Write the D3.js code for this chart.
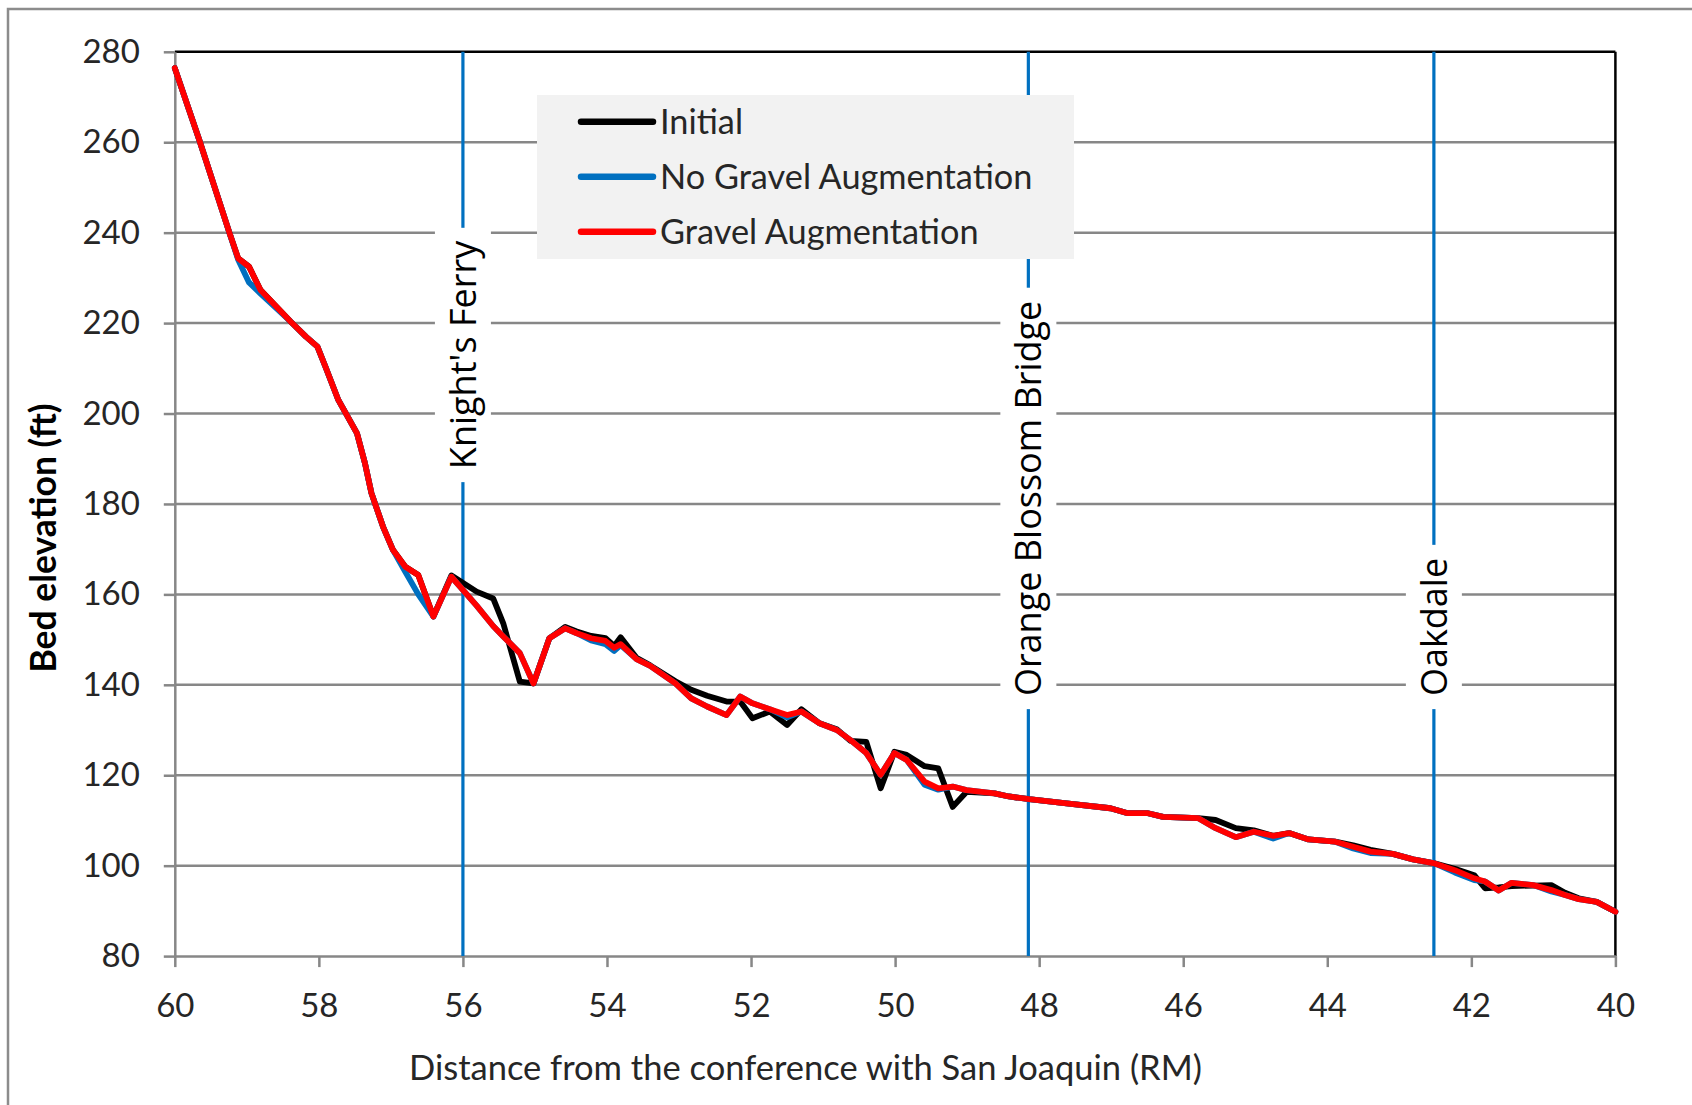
<!DOCTYPE html>
<html>
<head>
<meta charset="utf-8">
<script src="https://cdn.jsdelivr.net/npm/d3@7"></script>
<style>
  html, body { margin: 0; padding: 0; background: #ffffff; }
  svg { display: block; }
</style>
</head>
<body>
<script>
// ---------------- DATA ----------------
const rm = [60.0, 59.66, 59.24, 59.12, 58.97, 58.81, 58.39, 58.18, 58.02, 57.91,
  57.73, 57.47, 57.36, 57.27, 57.11, 56.97, 56.80, 56.62, 56.41, 56.16,
  55.81, 55.58, 55.44, 55.21, 55.02, 54.80, 54.58, 54.42, 54.22, 54.02,
  53.90, 53.81, 53.59, 53.40, 53.05, 52.83, 52.61, 52.34, 52.15, 51.98,
  51.74, 51.50, 51.30, 51.05, 50.81, 50.62, 50.40, 50.20, 50.01, 49.84,
  49.59, 49.40, 49.20, 49.01, 48.62, 48.42, 48.14, 47.62, 47.01, 46.77,
  46.49, 46.28, 45.79, 45.55, 45.27, 45.02, 44.75, 44.53, 44.26, 43.89,
  43.64, 43.40, 43.09, 42.81, 42.51, 42.23, 41.96, 41.81, 41.62, 41.44,
  41.14, 40.89, 40.70, 40.51, 40.26, 40.00];

const initial = [276.4, 260.5, 239.9, 234.3, 232.5, 227.3, 220.3, 217.0, 214.8, 210.4,
  203.0, 195.6, 189.0, 182.4, 175.0, 169.8, 166.1, 164.3, 155.1, 164.2,
  160.6, 159.1, 153.6, 140.7, 140.3, 150.3, 152.8, 151.8, 150.8, 150.3,
  148.6, 150.5, 146.0, 144.3, 140.8, 138.9, 137.6, 136.3, 136.3, 132.6,
  134.1, 131.1, 134.6, 131.5, 130.2, 127.6, 127.4, 117.1, 125.2, 124.5,
  122.0, 121.5, 113.0, 116.3, 116.0, 115.3, 114.7, 113.8, 112.7, 111.6,
  111.6, 110.8, 110.5, 110.1, 108.3, 107.8, 106.6, 107.2, 105.8, 105.3,
  104.5, 103.5, 102.6, 101.4, 100.5, 99.3, 97.9, 95.0, 95.2, 95.5,
  95.6, 95.7, 94.0, 92.8, 92.0, 89.8];

const noGravel = [276.4, 260.5, 239.9, 234.0, 229.0, 226.5, 220.3, 217.0, 214.8, 210.4,
  203.0, 195.6, 189.0, 182.4, 175.0, 169.8, 165.0, 160.0, 155.1, 163.9,
  157.5, 153.0, 150.7, 147.0, 140.3, 150.3, 152.5, 151.4, 149.8, 149.0,
  147.5, 148.8, 145.7, 144.2, 140.3, 137.0, 135.2, 133.3, 137.4, 135.9,
  134.6, 132.8, 134.1, 131.5, 130.0, 127.8, 124.9, 120.1, 124.9, 123.4,
  117.9, 116.8, 117.5, 116.7, 116.0, 115.3, 114.7, 113.8, 112.7, 111.6,
  111.6, 110.8, 110.5, 108.3, 106.3, 107.5, 106.0, 107.2, 105.8, 105.3,
  103.8, 102.8, 102.6, 101.4, 100.5, 98.5, 96.8, 96.5, 94.5, 96.2,
  95.7, 94.3, 93.5, 92.6, 92.0, 89.8];

const gravel = [276.4, 260.5, 239.9, 234.3, 232.5, 227.3, 220.3, 217.0, 214.8, 210.4,
  203.0, 195.6, 189.0, 182.4, 175.0, 169.8, 166.1, 164.3, 155.1, 163.9,
  157.5, 153.0, 150.7, 147.0, 140.3, 150.3, 152.5, 151.4, 150.3, 149.7,
  148.2, 149.0, 145.7, 144.2, 140.3, 137.0, 135.2, 133.3, 137.4, 135.9,
  134.6, 133.3, 134.1, 131.5, 130.0, 127.8, 124.9, 120.1, 124.9, 123.4,
  118.6, 117.1, 117.5, 116.7, 116.0, 115.3, 114.7, 113.8, 112.7, 111.6,
  111.6, 110.8, 110.5, 108.3, 106.3, 107.5, 106.6, 107.2, 105.8, 105.3,
  104.2, 103.1, 102.6, 101.4, 100.5, 99.0, 97.2, 96.5, 94.5, 96.2,
  95.7, 94.6, 93.5, 92.6, 92.0, 89.8];

const seriesNames = ["Initial", "No Gravel Augmentation", "Gravel Augmentation"];
const seriesColors = ["#000000", "#0070C0", "#FF0000"];

const xTicks = [60, 58, 56, 54, 52, 50, 48, 46, 44, 42, 40];
const yTicks = [80, 100, 120, 140, 160, 180, 200, 220, 240, 260, 280];

const markerNames = ["Knight's Ferry", "Orange Blossom Bridge", "Oakdale"];
const markerRM = [56.0, 48.15, 42.52];
const markerLabelStartElev = [187.7, 137.5, 137.5];

const xTitle = "Distance from the conference with San Joaquin (RM)";
const yTitle = "Bed elevation (ft)";

// ---------------- LAYOUT ----------------
const W = 1692, H = 1105;
const M = { left: 174.8, right: 1615.4, top: 51.8, bottom: 956.1 };

const svg = d3.select("body").append("svg").attr("width", W).attr("height", H);

// outer frame
svg.append("rect").attr("x", 8).attr("y", 9).attr("width", W + 20).attr("height", H + 20)
  .attr("fill", "#ffffff").attr("stroke", "#8c8c8c").attr("stroke-width", 2.5);

const x = d3.scaleLinear().domain([60, 40]).range([M.left, M.right]);
const y = d3.scaleLinear().domain([80, 280]).range([M.bottom, M.top]);

const gridColor = "#878787";
const txtFont = "Lato, 'Open Sans', sans-serif";
const txtColor = "#262626";

// gridlines
svg.append("g").selectAll("line").data(yTicks.filter(d => d > 80 && d < 280)).join("line")
  .attr("x1", M.left).attr("x2", M.right)
  .attr("y1", d => y(d)).attr("y2", d => y(d))
  .attr("stroke", gridColor).attr("stroke-width", 2.5);

// top and right border (black)
svg.append("line").attr("x1", M.left).attr("x2", M.right).attr("y1", y(280)).attr("y2", y(280))
  .attr("stroke", "#000").attr("stroke-width", 2.5);
svg.append("line").attr("x1", M.right).attr("x2", M.right).attr("y1", y(280)).attr("y2", y(80))
  .attr("stroke", "#000").attr("stroke-width", 2.5);

// axes
const yAxis = svg.append("g").attr("transform", `translate(${M.left},0)`)
  .call(d3.axisLeft(y).tickValues(yTicks).tickSize(11).tickPadding(24).tickSizeOuter(0));
const xAxis = svg.append("g").attr("transform", `translate(0,${M.bottom})`)
  .call(d3.axisBottom(x).tickValues(xTicks).tickSize(11).tickPadding(26).tickSizeOuter(0));
[xAxis, yAxis].forEach(g => {
  g.selectAll("path, line").attr("stroke", gridColor).attr("stroke-width", 2.5);
  g.selectAll("text").attr("font-family", txtFont).attr("font-size", 33).attr("fill", txtColor);
});

// marker lines
svg.append("g").selectAll("line").data(markerRM).join("line")
  .attr("x1", d => x(d)).attr("x2", d => x(d))
  .attr("y1", y(280)).attr("y2", y(80))
  .attr("stroke", "#0070C0").attr("stroke-width", 3.2);

// marker labels with white boxes
const labG = svg.append("g");
markerNames.forEach((name, i) => {
  const cx = x(markerRM[i]);
  const sy = y(markerLabelStartElev[i]);
  const g = labG.append("g");
  const t = g.append("text")
    .attr("transform", `translate(${cx},${sy}) rotate(-90)`)
    .attr("dy", "0.36em")
    .attr("font-family", "'Open Sans', sans-serif")
    .attr("font-size", 36)
    .attr("fill", "#000")
    .text(name);
  const len = t.node().getComputedTextLength();
  g.insert("rect", "text")
    .attr("x", cx - 28).attr("width", 56)
    .attr("y", sy - len - 13).attr("height", len + 26)
    .attr("fill", "#ffffff");
});

// series
const line = d3.line().x((d, i) => x(rm[i])).y(d => y(d));
const seriesData = [initial, noGravel, gravel];
svg.append("g").selectAll("path").data(seriesData).join("path")
  .attr("d", d => line(d))
  .attr("fill", "none")
  .attr("stroke", (d, i) => seriesColors[i])
  .attr("stroke-width", 5.8)
  .attr("stroke-linejoin", "round")
  .attr("stroke-linecap", "round");

// legend
const lg = svg.append("g");
lg.append("rect").attr("x", 537).attr("y", 95).attr("width", 537).attr("height", 164)
  .attr("fill", "#f2f2f2");
seriesNames.forEach((name, i) => {
  const ly = 121.7 + i * 55;
  lg.append("line").attr("x1", 581).attr("x2", 653).attr("y1", ly).attr("y2", ly)
    .attr("stroke", seriesColors[i]).attr("stroke-width", 6.5).attr("stroke-linecap", "round");
  lg.append("text").attr("x", 660).attr("y", ly).attr("dy", "0.36em")
    .attr("font-family", txtFont).attr("font-size", 34.3).attr("fill", txtColor).text(name);
});

// axis titles
svg.append("text").attr("x", 805.5).attr("y", 1080)
  .attr("text-anchor", "middle")
  .attr("font-family", txtFont).attr("font-size", 34.5).attr("fill", txtColor)
  .text(xTitle);

svg.append("text")
  .attr("transform", `translate(56,538) rotate(-90)`)
  .attr("text-anchor", "middle")
  .attr("font-family", txtFont).attr("font-weight", "bold").attr("font-size", 35.5).attr("fill", "#000")
  .text(yTitle);
</script>
</body>
</html>
